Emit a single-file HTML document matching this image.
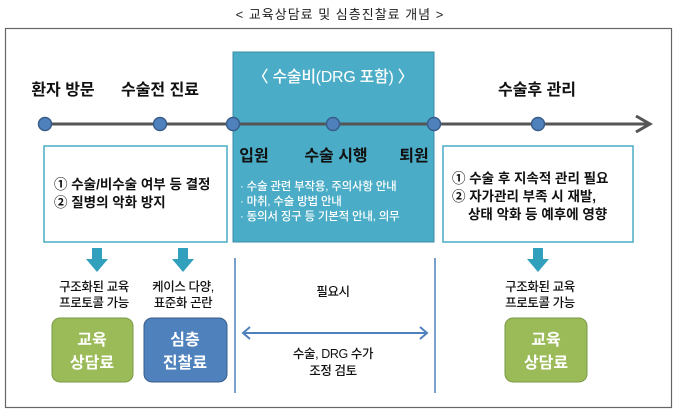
<!DOCTYPE html>
<html><head><meta charset="utf-8"><style>
body{margin:0;width:680px;height:412px;background:#fff;overflow:hidden}
svg text{font-family:"Liberation Sans","Noto Sans CJK KR",sans-serif}
</style></head><body>
<svg width="680" height="412" viewBox="0 0 680 412">
<text x="340" y="19" font-size="13" text-anchor="middle" fill="#222" letter-spacing="1">&lt; 교육상담료 및 심층진찰료 개념 &gt;</text>
<rect x="5.5" y="28.5" width="666" height="379" fill="#fff" stroke="#666" stroke-width="1.2"/>
<rect x="233" y="52" width="201" height="190" fill="#4aacc6" stroke="#3b8ea5" stroke-width="1"/>
<text x="333" y="82" font-size="16" font-weight="500" text-anchor="middle" fill="#fff" letter-spacing="-0.3">〈 수술비(DRG 포함) 〉</text>
<line x1="45" y1="124" x2="648" y2="124" stroke="#555" stroke-width="3"/>
<polyline points="636,116 650,124 636,132" fill="none" stroke="#555" stroke-width="3"/>
<g fill="#4f81bd" stroke="#385d8a" stroke-width="1.5">
<circle cx="45" cy="124" r="6.5"/><circle cx="160" cy="124" r="6.5"/><circle cx="233" cy="124" r="6.5"/><circle cx="333" cy="124" r="6.5"/><circle cx="434" cy="124" r="6.5"/><circle cx="538" cy="124" r="6.5"/></g>
<g font-size="16" font-weight="bold" fill="#111" text-anchor="middle">
<text x="63" y="95">환자 방문</text><text x="160" y="95">수술전 진료</text><text x="537" y="95">수술후 관리</text>
<text x="254" y="161">입원</text><text x="336" y="161">수술 시행</text><text x="414" y="161">퇴원</text></g>
<g font-size="11.5" fill="#fff" font-weight="500" letter-spacing="-0.2"><text x="240" y="190">· 수술 관련 부작용, 주의사항 안내</text><text x="240" y="205">· 마취, 수술 방법 안내</text><text x="240" y="220">· 동의서 징구 등 기본적 안내, 의무</text></g>
<rect x="44" y="146" width="183" height="96" fill="#fff" stroke="#4aacc6" stroke-width="1.5"/>
<rect x="443" y="146" width="190" height="96" fill="#fff" stroke="#4aacc6" stroke-width="1.5"/>
<g font-size="13.5" font-weight="bold" fill="#111">
<text x="54" y="189">① 수술/비수술 여부 등 결정</text><text x="54" y="207">② 질병의 악화 방지</text>
<text x="452" y="183">① 수술 후 지속적 관리 필요</text><text x="452" y="201">② 자가관리 부족 시 재발,</text><text x="468" y="219">상태 악화 등 예후에 영향</text></g>
<g fill="#31a0bd">
<polygon points="92,248 102,248 102,259 108,259 97,272 86,259 92,259"/>
<polygon points="178,248 188,248 188,259 194,259 183,272 172,259 178,259"/>
<polygon points="533,248 543,248 543,259 549,259 538,272 527,259 533,259"/></g>
<g font-size="12.5" fill="#111" font-weight="500" text-anchor="middle" letter-spacing="-0.4">
<text x="94" y="291">구조화된 교육</text><text x="94" y="307">프로토콜 가능</text>
<text x="183" y="291">케이스 다양,</text><text x="183" y="307">표준화 곤란</text>
<text x="540" y="291">구조화된 교육</text><text x="540" y="307">프로토콜 가능</text>
<text x="333" y="296">필요시</text><text x="333" y="358">수술, DRG 수가</text><text x="333" y="375">조정 검토</text></g>
<line x1="235" y1="258" x2="235" y2="393" stroke="#4f81bd" stroke-width="1.5"/>
<line x1="435" y1="258" x2="435" y2="393" stroke="#4f81bd" stroke-width="1.5"/>
<line x1="243" y1="333" x2="427" y2="333" stroke="#4f81bd" stroke-width="2"/>
<polyline points="250,327 243,333 250,339" fill="none" stroke="#4f81bd" stroke-width="2"/>
<polyline points="420,327 427,333 420,339" fill="none" stroke="#4f81bd" stroke-width="2"/>
<rect x="52" y="318" width="81" height="64" rx="8" fill="#9bbb59" stroke="#7a9a45"/>
<rect x="144" y="318" width="83" height="64" rx="8" fill="#4f81bd" stroke="#385d8a"/>
<rect x="505" y="318" width="82" height="64" rx="8" fill="#9bbb59" stroke="#7a9a45"/>
<g font-size="16" font-weight="bold" fill="#fff" text-anchor="middle">
<text x="92" y="345">교육</text><text x="92" y="368">상담료</text>
<text x="185" y="345">심층</text><text x="185" y="368">진찰료</text>
<text x="546" y="345">교육</text><text x="546" y="368">상담료</text></g>
</svg>
</body></html>
